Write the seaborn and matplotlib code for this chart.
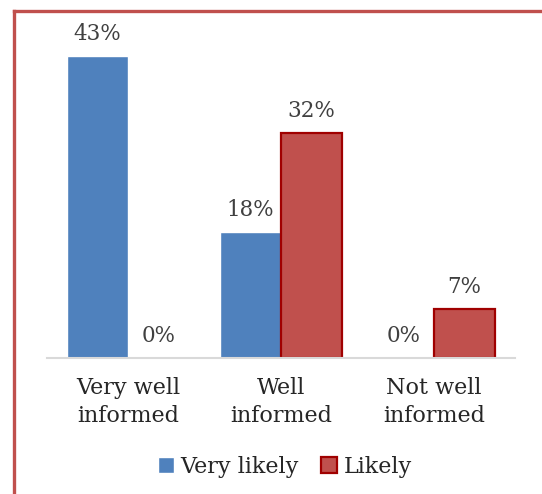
import matplotlib
matplotlib.use("Agg")
import matplotlib.pyplot as plt
import seaborn as sns
import pandas as pd
from matplotlib.lines import Line2D

categories = ["Very well\ninformed", "Well\ninformed", "Not well\ninformed"]
series_names = ["Very likely", "Likely"]
very_likely = [43, 18, 0]
likely = [0, 32, 7]

df = pd.DataFrame({
    "category": categories * 2,
    "series": [series_names[0]] * 3 + [series_names[1]] * 3,
    "value": very_likely + likely,
})

sns.set_style("white")
plt.rcParams["font.family"] = ["DejaVu Serif"]

W, H = 542, 494
fig = plt.figure(figsize=(W / 100, H / 100), dpi=100)
ax = fig.add_axes([47 / W, 1 - 358 / H, 468 / W, (358 - 21) / H])

blue = "#4F81BD"
red = "#C0504D"
sns.barplot(data=df, x="category", y="value", hue="series",
            palette=[blue, red], width=0.8, ax=ax, saturation=1,
            legend=True)

for bar in ax.containers[1]:
    bar.set_edgecolor("#A00000")
    bar.set_linewidth(1.6 if bar.get_height() > 0 else 0)

vals = [very_likely, likely]
for cont, v in zip(ax.containers, vals):
    ax.bar_label(cont, labels=[f"{x}%" for x in v], padding=8,
                 fontsize=15.5, color="#404040")

ax.set_ylim(0, 48)
ax.set_xlim(-0.53, 2.53)
ax.set_xlabel("")
ax.set_ylabel("")
ax.set_yticks([])
for s in ["top", "right", "left"]:
    ax.spines[s].set_visible(False)
ax.spines["bottom"].set_color("#D9D9D9")
ax.spines["bottom"].set_linewidth(1.5)
ax.tick_params(axis="x", length=0, pad=14, labelsize=16, colors="#262626")
for t in ax.get_xticklabels():
    t.set_linespacing(1.3)

leg = ax.legend(loc="center", bbox_to_anchor=(285 / W, 1 - 467 / H),
                bbox_transform=fig.transFigure, ncol=2, frameon=False,
                fontsize=16, handlelength=0.7, handleheight=0.7,
                handletextpad=0.3, columnspacing=1.0)
for t in leg.get_texts():
    t.set_color("#262626")
handles = leg.legend_handles
handles[1].set_edgecolor("#A00000")
handles[1].set_linewidth(1.6)

border = "#C0504D"
fig.add_artist(Line2D([14 / W, 14 / W], [0, 1 - 11.5 / H], color=border,
                      lw=2.4, transform=fig.transFigure, solid_capstyle="projecting"))
fig.add_artist(Line2D([14 / W, 1], [1 - 11.5 / H, 1 - 11.5 / H], color=border,
                      lw=2.4, transform=fig.transFigure, solid_capstyle="projecting"))

fig.savefig("out.png", dpi=100)
